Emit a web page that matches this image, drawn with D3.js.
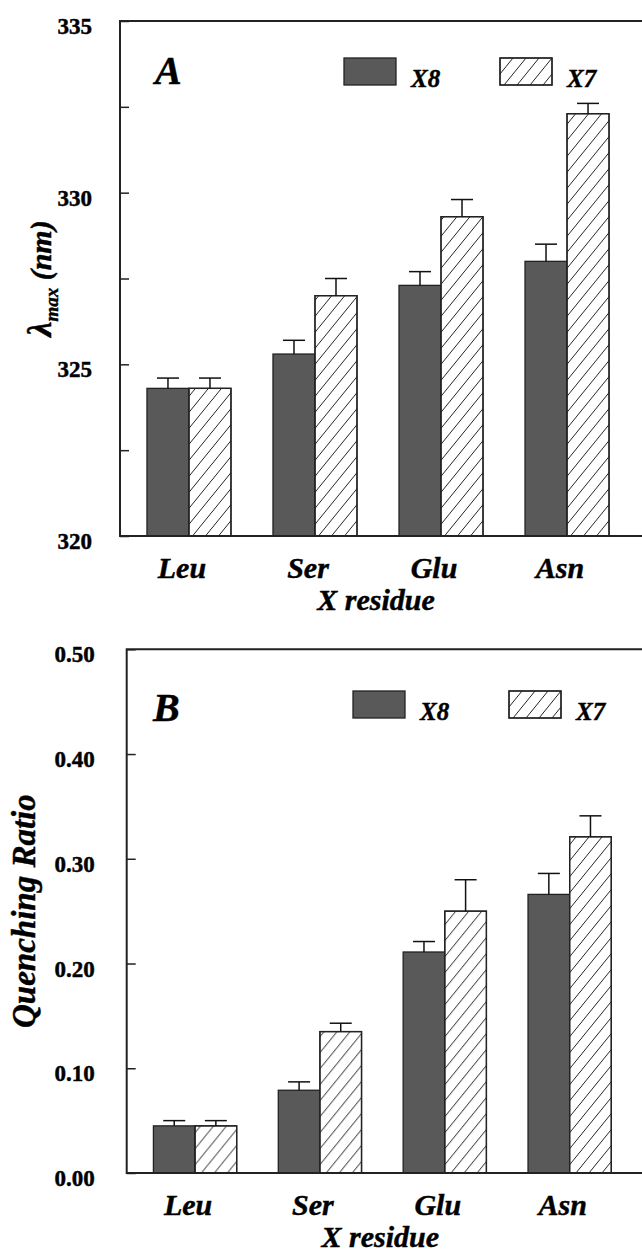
<!DOCTYPE html>
<html>
<head>
<meta charset="utf-8">
<script src="https://cdn.jsdelivr.net/npm/d3@7"></script>
<style>
  body { margin: 0; background: #fff; }
  svg { display: block; }
  text { font-family: "Liberation Serif", "Times New Roman", serif; font-weight: bold; fill: #000; stroke: #000; stroke-width: 0.45px; }
  .it { font-style: italic; }
</style>
</head>
<body>
<div id="chart"></div>
<script>
// categories and series
var residues = ["Leu", "Ser", "Glu", "Asn"];
var series = ["X8", "X7"];

// panel A: lambda max (nm)
var lambdaX8 = [324.3, 325.3, 327.3, 328.0];
var lambdaX8Err = [0.3, 0.4, 0.4, 0.5];
var lambdaX7 = [324.3, 327.0, 329.3, 332.3];
var lambdaX7Err = [0.3, 0.5, 0.5, 0.3];
var lambdaTicks = [320, 322.5, 325, 327.5, 330, 332.5, 335];

// panel B: quenching ratio
var quenchX8 = [0.045, 0.079, 0.211, 0.266];
var quenchX8Err = [0.005, 0.008, 0.010, 0.020];
var quenchX7 = [0.045, 0.135, 0.250, 0.321];
var quenchX7Err = [0.005, 0.008, 0.030, 0.020];
var quenchTicks = [0, 0.1, 0.2, 0.3, 0.4, 0.5];

var svg = d3.select("#chart")
            .append("svg")
            .attr("width", 642)
            .attr("height", 1256);

// hatch pattern for X7
var defs = svg.append("defs");
var pw = 13, ph = 16;
defs.append("pattern")
    .attr("id", "hatch")
    .attr("patternUnits", "userSpaceOnUse")
    .attr("width", pw)
    .attr("height", ph)
  .append("path")
    .attr("d", "M" + (-pw) + "," + ph + "L0,0M0," + ph + "L" + pw + ",0M" + pw + "," + ph + "L" + (2 * pw) + ",0")
    .attr("stroke", "#222")
    .attr("stroke-width", 1)
    .attr("fill", "none");

var fills = {X8: "#595959", X7: "#fff"};

function drawPanel(cfg) {
  var g = svg.append("g");

  var x0 = d3.scaleBand()
      .domain(residues)
      .range([cfg.left, cfg.right])
      .paddingInner(1 / 3)
      .paddingOuter(0.214);

  var x1 = d3.scaleBand()
      .domain(series)
      .range([0, x0.bandwidth()]);

  var y = d3.scaleLinear()
      .domain(cfg.domain)
      .range([cfg.bottom, cfg.top]);

  var rows = residues.map(function(r, i) {
    return {
      residue: r,
      values: [
        {key: "X8", v: cfg.x8[i], e: cfg.x8Err[i]},
        {key: "X7", v: cfg.x7[i], e: cfg.x7Err[i]}
      ]
    };
  });

  var grp = g.selectAll(".grp")
      .data(rows)
      .enter()
      .append("g")
      .attr("class", "grp")
      .attr("transform", function(d) { return "translate(" + x0(d.residue) + ",0)"; });

  var bar = grp.selectAll(".bar")
      .data(function(d) { return d.values; })
      .enter()
      .append("g")
      .attr("class", "bar");

  bar.append("rect")
      .attr("x", function(d) { return x1(d.key); })
      .attr("y", function(d) { return y(d.v); })
      .attr("width", x1.bandwidth())
      .attr("height", function(d) { return cfg.bottom - y(d.v); })
      .attr("fill", function(d) { return fills[d.key]; })
      .attr("stroke", "#222")
      .attr("stroke-width", 1.3);

  bar.filter(function(d) { return d.key == "X7"; })
    .append("rect")
      .attr("x", function(d) { return x1(d.key); })
      .attr("y", function(d) { return y(d.v); })
      .attr("width", x1.bandwidth())
      .attr("height", function(d) { return cfg.bottom - y(d.v); })
      .attr("fill", "url(#hatch)")
      .attr("stroke", "#222")
      .attr("stroke-width", 1.3);

  // error bars (upper only)
  bar.append("line")
      .attr("x1", function(d) { return x1(d.key) + x1.bandwidth() / 2; })
      .attr("x2", function(d) { return x1(d.key) + x1.bandwidth() / 2; })
      .attr("y1", function(d) { return y(d.v); })
      .attr("y2", function(d) { return y(d.v + d.e); })
      .attr("stroke", "#111")
      .attr("stroke-width", 1.5);

  bar.append("line")
      .attr("x1", function(d) { return x1(d.key) + x1.bandwidth() / 2 - 11; })
      .attr("x2", function(d) { return x1(d.key) + x1.bandwidth() / 2 + 11; })
      .attr("y1", function(d) { return y(d.v + d.e); })
      .attr("y2", function(d) { return y(d.v + d.e); })
      .attr("stroke", "#111")
      .attr("stroke-width", 1.5);

  // frame (right side runs off the page)
  g.append("path")
      .attr("d", "M" + 700 + "," + cfg.top + "H" + cfg.left + "V" + cfg.bottom + "H" + 700)
      .attr("fill", "none")
      .attr("stroke", "#222")
      .attr("stroke-width", 2);

  // y axis, ticks point inward
  var yAxis = g.append("g")
      .attr("class", "axis y")
      .attr("transform", "translate(" + cfg.left + ",0)")
      .call(d3.axisLeft(y)
        .tickValues(cfg.ticks)
        .tickSizeInner(-9)
        .tickSizeOuter(0)
        .tickPadding(cfg.pad)
        .tickFormat(cfg.fmt));
  yAxis.select(".domain").remove();
  yAxis.selectAll(".tick line").attr("stroke", "#222").attr("stroke-width", 1.5);
  yAxis.selectAll(".tick text")
      .attr("dy", "0.55em")
      .style("font-size", "23px")
      .attr("fill", "#000");
  yAxis.attr("font-size", null).attr("font-family", null);

  // category labels
  g.selectAll(".cat")
      .data(residues)
      .enter()
      .append("text")
      .attr("class", "cat it")
      .attr("x", function(d) { return x0(d) + x0.bandwidth() / 2 - 7; })
      .attr("y", cfg.bottom + 42)
      .attr("text-anchor", "middle")
      .style("font-size", "30px")
      .text(function(d) { return d; });

  g.append("text")
      .attr("class", "it")
      .attr("x", (cfg.left + cfg.right) / 2 - 2)
      .attr("y", cfg.bottom + 74)
      .attr("text-anchor", "middle")
      .style("font-size", "30px")
      .text("X residue");

  // panel letter
  g.append("text")
      .attr("class", "it")
      .attr("x", cfg.letterX)
      .attr("y", cfg.letterY)
      .style("font-size", "40px")
      .text(cfg.letter);

  // legend
  var leg = g.selectAll(".leg")
      .data(series)
      .enter()
      .append("g")
      .attr("class", "leg")
      .attr("transform", function(d, i) { return "translate(" + cfg.legX[i] + "," + cfg.legY + ")"; });

  leg.append("rect")
      .attr("width", 52)
      .attr("height", 27)
      .attr("fill", function(d) { return fills[d]; })
      .attr("stroke", "#222")
      .attr("stroke-width", 1.3);
  leg.filter(function(d) { return d == "X7"; })
    .append("rect")
      .attr("width", 52)
      .attr("height", 27)
      .attr("fill", "url(#hatch)")
      .attr("stroke", "#222")
      .attr("stroke-width", 1.3);
  leg.append("text")
      .attr("class", "it")
      .attr("x", 67)
      .attr("y", 29)
      .style("font-size", "25px")
      .text(function(d) { return d; });

  // y title
  var yt = g.append("text")
      .attr("class", "it")
      .attr("transform", "translate(" + cfg.ytX + "," + ((cfg.top + cfg.bottom) / 2) + ") rotate(-90)")
      .attr("text-anchor", "middle")
      .style("font-size", cfg.ytSize + "px");
  cfg.ytitle(yt);
}

drawPanel({
  left: 120, right: 636, top: 21, bottom: 536,
  domain: [320, 335],
  x8: lambdaX8, x8Err: lambdaX8Err, x7: lambdaX7, x7Err: lambdaX7Err,
  ticks: lambdaTicks,
  fmt: function(d) { return d % 5 == 0 ? d3.format("d")(d) : ""; },
  pad: 28,
  letter: "A", letterX: 155, letterY: 84,
  legX: [344, 500], legY: 58,
  ytX: 51, ytSize: 30,
  ytitle: function(t) {
    t.append("tspan").style("font-size", "34px").text("λ");
    t.append("tspan").attr("dy", 7).style("font-size", "19px").text("max");
    t.append("tspan").attr("dy", -7).text(" (nm)");
  }
});

drawPanel({
  left: 126.7, right: 638, top: 649.3, bottom: 1173,
  domain: [0, 0.5],
  x8: quenchX8, x8Err: quenchX8Err, x7: quenchX7, x7Err: quenchX7Err,
  ticks: quenchTicks,
  fmt: d3.format(".2f"),
  pad: 32,
  letter: "B", letterX: 153, letterY: 721,
  legX: [353, 509], legY: 691,
  ytX: 35, ytSize: 33,
  ytitle: function(t) { t.text("Quenching Ratio"); }
});
</script>
</body>
</html>
